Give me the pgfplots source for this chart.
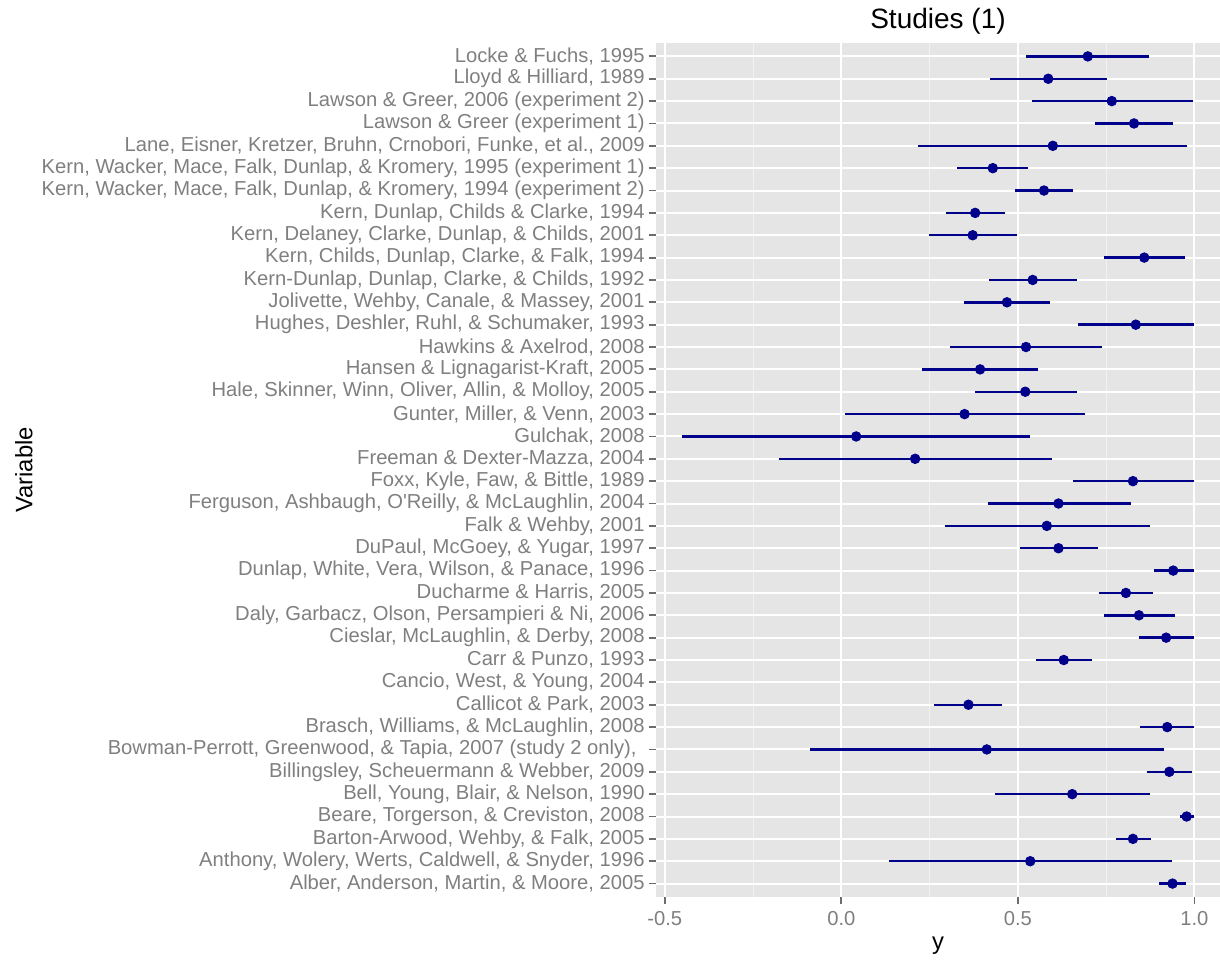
\documentclass[border=0pt]{standalone}
\usepackage{fontspec}
\setmainfont{Liberation Sans}
\usepackage{pgfplots}
\usepackage{pgfplotstable}
\pgfplotsset{compat=1.18}
\definecolor{panelbg}{HTML}{E5E5E5}
\definecolor{minorgrid}{HTML}{F2F2F2}
\definecolor{ticktext}{HTML}{7F7F7F}
\definecolor{ptcol}{HTML}{00008B}
\newcommand{\sq}{\XeTeXglyph\XeTeXcharglyph"27 }

\pgfplotstableread{
row lo pt hi
38 0.523 0.698 0.872
37 0.421 0.586 0.752
36 0.539 0.766 0.995
35 0.719 0.829 0.940
34 0.217 0.599 0.979
33 0.327 0.429 0.530
32 0.492 0.574 0.657
31 0.296 0.379 0.463
30 0.247 0.372 0.498
29 0.743 0.858 0.974
28 0.418 0.542 0.667
27 0.347 0.469 0.592
26 0.670 0.834 1.000
25 0.309 0.523 0.738
24 0.229 0.393 0.558
23 0.378 0.521 0.667
22 0.009 0.349 0.690
21 -0.452 0.042 0.535
20 -0.177 0.209 0.596
19 0.656 0.826 1.000
18 0.415 0.615 0.819
17 0.294 0.582 0.873
16 0.505 0.615 0.727
15 0.886 0.940 1.000
14 0.730 0.806 0.883
13 0.743 0.843 0.944
12 0.843 0.920 1.000
11 0.552 0.630 0.709
9 0.263 0.360 0.456
8 0.847 0.923 1.000
7 -0.089 0.412 0.914
6 0.866 0.929 0.992
5 0.436 0.654 0.873
4 0.960 0.978 1.000
3 0.779 0.826 0.876
2 0.134 0.535 0.937
1 0.900 0.938 0.977
}\studies

\begin{document}
\begin{tikzpicture}
\begin{axis}[
  scale only axis,
  width=282pt, height=427pt,
  xmin=-0.525, xmax=1.0725,
  ymin=0.4, ymax=38.6,
  axis background/.style={fill=panelbg},
  axis line style={draw=none},
  tick align=outside,
  xtick pos=bottom, ytick pos=left,
  major tick length=3.5pt,
  minor tick length=0pt,
  tick style={color=ticktext!85!black, line width=0.9pt},
  xtick={-0.5,0,0.5,1},
  xticklabels={-0.5,0.0,0.5,1.0},
  minor xtick={-0.25,0.25,0.75},
  ytick={1,...,38},
  yticklabels={
    {Alber, Anderson, Martin, \& Moore, 2005},
    {Anthony, Wolery, Werts, Caldwell, \& Snyder, 1996},
    {Barton-Arwood, Wehby, \& Falk, 2005},
    {Beare, Torgerson, \& Creviston, 2008},
    {Bell, Young, Blair, \& Nelson, 1990},
    {Billingsley, Scheuermann \& Webber, 2009},
    {Bowman-Perrott, Greenwood, \& Tapia, 2007 (study 2 only),\kern 4pt},
    {Brasch, Williams, \& McLaughlin, 2008},
    {Callicot \& Park, 2003},
    {Cancio, West, \& Young, 2004},
    {Carr \& Punzo, 1993},
    {Cieslar, McLaughlin, \& Derby, 2008},
    {Daly, Garbacz, Olson, Persampieri \& Ni, 2006},
    {Ducharme \& Harris, 2005},
    {Dunlap, White, Vera, Wilson, \& Panace, 1996},
    {DuPaul, McGoey, \& Yugar, 1997},
    {Falk \& Wehby, 2001},
    {Ferguson, Ashbaugh, O\sq Reilly, \& McLaughlin, 2004},
    {Foxx, Kyle, Faw, \& Bittle, 1989},
    {Freeman \& Dexter-Mazza, 2004},
    {Gulchak, 2008},
    {Gunter, Miller, \& Venn, 2003},
    {Hale, Skinner, Winn, Oliver, Allin, \& Molloy, 2005},
    {Hansen \& Lignagarist-Kraft, 2005},
    {Hawkins \& Axelrod, 2008},
    {Hughes, Deshler, Ruhl, \& Schumaker, 1993},
    {Jolivette, Wehby, Canale, \& Massey, 2001},
    {Kern-Dunlap, Dunlap, Clarke, \& Childs, 1992},
    {Kern, Childs, Dunlap, Clarke, \& Falk, 1994},
    {Kern, Delaney, Clarke, Dunlap, \& Childs, 2001},
    {Kern, Dunlap, Childs \& Clarke, 1994},
    {Kern, Wacker, Mace, Falk, Dunlap, \& Kromery, 1994 (experiment 2)},
    {Kern, Wacker, Mace, Falk, Dunlap, \& Kromery, 1995 (experiment 1)},
    {Lane, Eisner, Kretzer, Bruhn, Crnobori, Funke, et al., 2009},
    {Lawson \& Greer (experiment 1)},
    {Lawson \& Greer, 2006 (experiment 2)},
    {Lloyd \& Hilliard, 1989},
    {Locke \& Fuchs, 1995}
  },
  ticklabel style={font=\fontsize{10.1}{11}\selectfont, text=ticktext},
  yticklabel style={inner xsep=2pt},
  /pgf/number format/assume math mode=true,
  xmajorgrids, xminorgrids, ymajorgrids,
  major grid style={white, line width=1pt},
  minor grid style={minorgrid, line width=0.5pt},
  title={Studies (1)},
  title style={font=\fontsize{14}{16}\selectfont, at={(axis description cs:0.5,1.0118)}, anchor=center},
  xlabel={y},
  xlabel style={font=\fontsize{11.9}{13}\selectfont, at={(axis description cs:0.5,-0.057)}, anchor=center},
  ylabel={Variable},
  ylabel style={font=\fontsize{11.9}{13}\selectfont, at={(axis description cs:-1.1206,0.5)}, anchor=center, rotate=0},
]
\addplot[ptcol, only marks, mark=*, mark size=2.4pt,
  error bars/.cd, x dir=both, x explicit, error mark=none,
  error bar style={line width=1.2pt, ptcol}]
  table[x=pt, y=row,
        x error plus expr=\thisrow{hi}-\thisrow{pt},
        x error minus expr=\thisrow{pt}-\thisrow{lo}] {\studies};
\end{axis}
\pgfresetboundingbox
\path[use as bounding box] (-328pt,-32pt) rectangle (282pt,448.5pt);
\end{tikzpicture}
\end{document}
